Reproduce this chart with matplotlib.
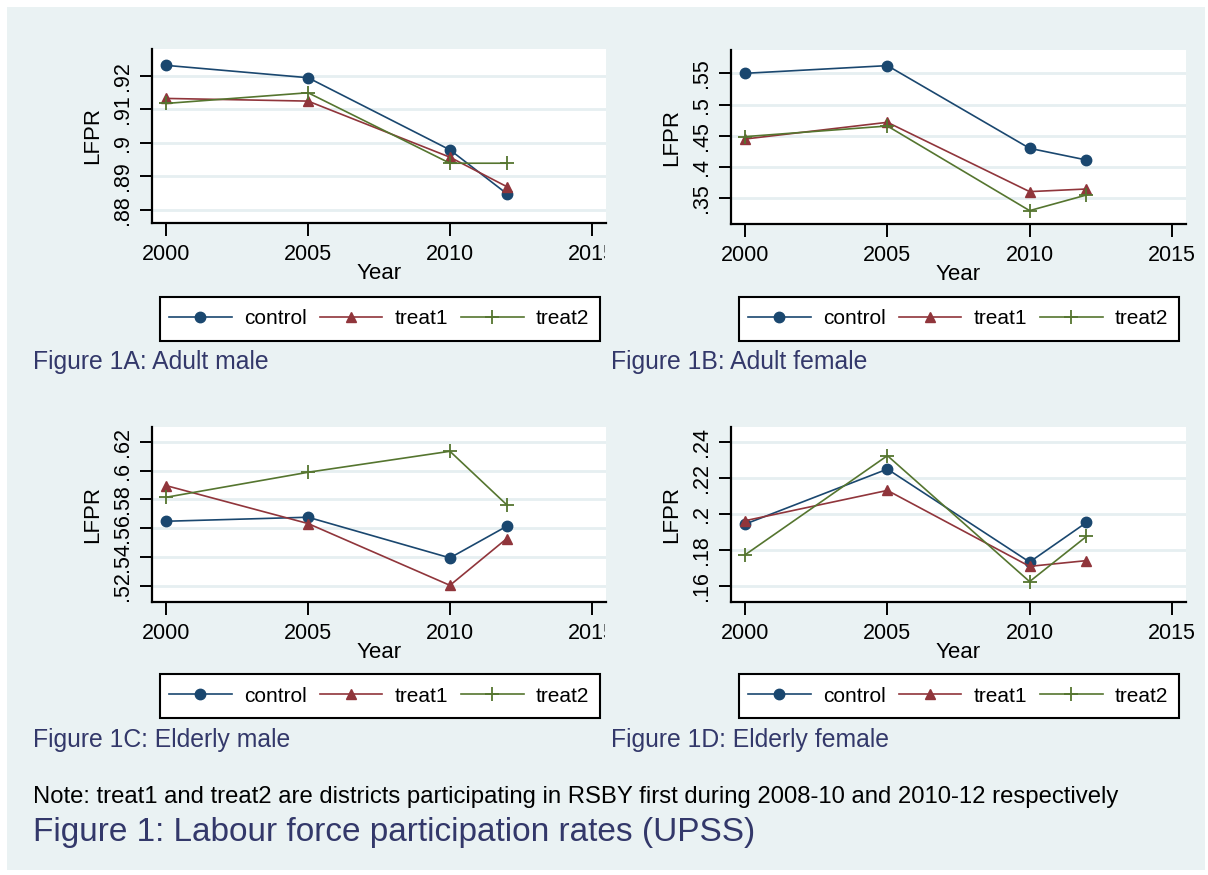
import matplotlib
matplotlib.use("Agg")
import matplotlib.pyplot as plt
from matplotlib.patches import Rectangle
from matplotlib.transforms import Bbox, TransformedBbox

plt.rcParams['font.family'] = ['Liberation Sans', 'DejaVu Sans']

# ---------------- data ----------------
years = [2000, 2005, 2010, 2012]
series_names = ["control", "treat1", "treat2"]

adult_male_control = [0.9232, 0.9195, 0.8979, 0.8848]
adult_male_treat1 = [0.9133, 0.9125, 0.8957, 0.8869]
adult_male_treat2 = [0.9118, 0.9150, 0.8939, 0.8939]

adult_female_control = [0.5500, 0.5623, 0.4300, 0.4113]
adult_female_treat1 = [0.4449, 0.4716, 0.3607, 0.3649]
adult_female_treat2 = [0.4487, 0.4657, 0.3303, 0.3553]

elderly_male_control = [0.5648, 0.5676, 0.5393, 0.5613]
elderly_male_treat1 = [0.5896, 0.5632, 0.5202, 0.5527]
elderly_male_treat2 = [0.5815, 0.5989, 0.6135, 0.5763]

elderly_female_control = [0.1944, 0.2251, 0.1732, 0.1953]
elderly_female_treat1 = [0.1963, 0.2132, 0.1708, 0.1740]
elderly_female_treat2 = [0.1773, 0.2326, 0.1623, 0.1875]

xticks = [2000, 2005, 2010, 2015]
xtick_labels = ["2000", "2005", "2010", "2015"]

yticks_A = [0.88, 0.89, 0.90, 0.91, 0.92]
ylabels_A = [".88", ".89", ".9", ".91", ".92"]
yticks_B = [0.35, 0.40, 0.45, 0.50, 0.55]
ylabels_B = [".35", ".4", ".45", ".5", ".55"]
yticks_C = [0.52, 0.54, 0.56, 0.58, 0.60, 0.62]
ylabels_C = [".52", ".54", ".56", ".58", ".6", ".62"]
yticks_D = [0.16, 0.18, 0.20, 0.22, 0.24]
ylabels_D = [".16", ".18", ".2", ".22", ".24"]

captions = ["Figure 1A: Adult male", "Figure 1B: Adult female",
            "Figure 1C: Elderly male", "Figure 1D: Elderly female"]
note_text = ("Note: treat1 and treat2 are districts participating in RSBY first "
             "during 2008-10 and 2010-12 respectively")
title_text = "Figure 1: Labour force participation rates (UPSS)"

# ---------------- style ----------------
W, H = 1208, 875
colors = ["#1a476f", "#90353b", "#55752f"]
markers = ["o", "^", "+"]
msizes = [7.5, 7.5, 10]
bg = "#EAF2F3"
grid_c = "#E6EFF1"
cap_color = "#33386a"

fig = plt.figure(figsize=(W / 100, H / 100), dpi=100)
fig.patch.set_facecolor("white")
fig.add_artist(Rectangle((7 / W, 5 / H), (1205 - 7) / W, (870 - 7) / H,
                         transform=fig.transFigure, fc=bg, ec="none", zorder=-2))


def px_axes(x0, y0, x1, y1):
    return fig.add_axes([x0 / W, 1 - y1 / H, (x1 - x0) / W, (y1 - y0) / H])


panels = [
    dict(box=(152, 49, 606, 223), ylim=(0.876, 0.9281), yt=yticks_A, yl=ylabels_A,
         data=[adult_male_control, adult_male_treat1, adult_male_treat2],
         leg=(160, 297, 600, 341), cap=(33, 362), clip=True),
    dict(box=(731, 50, 1186, 224), ylim=(0.3089, 0.5873), yt=yticks_B, yl=ylabels_B,
         data=[adult_female_control, adult_female_treat1, adult_female_treat2],
         leg=(739, 297, 1179, 341), cap=(611, 362), clip=False),
    dict(box=(152, 427, 606, 602), ylim=(0.5086, 0.6304), yt=yticks_C, yl=ylabels_C,
         data=[elderly_male_control, elderly_male_treat1, elderly_male_treat2],
         leg=(160, 674, 600, 718), cap=(33, 740), clip=True),
    dict(box=(731, 427, 1186, 602), ylim=(0.1509, 0.2486), yt=yticks_D, yl=ylabels_D,
         data=[elderly_female_control, elderly_female_treat1, elderly_female_treat2],
         leg=(739, 674, 1179, 718), cap=(611, 740), clip=False),
]

clipbox = TransformedBbox(Bbox([[0, 0], [605 / W, 1]]), fig.transFigure)

for i, p in enumerate(panels):
    ax = px_axes(*p["box"])
    ax.set_facecolor("white")
    for k, (vals, name) in enumerate(zip(p["data"], series_names)):
        ax.plot(years, vals, color=colors[k], marker=markers[k], ms=msizes[k],
                mew=1.3 if markers[k] == "+" else 1.0, lw=1.2, label=name,
                clip_on=False, zorder=3)
    ax.set_xlim(1999.5, 2015.5)
    ax.set_ylim(*p["ylim"])
    ax.set_xticks(xticks)
    ax.set_xticklabels(xtick_labels)
    ax.set_yticks(p["yt"])
    ax.set_yticklabels(p["yl"], rotation=90, va="center")
    ax.yaxis.grid(True, color=grid_c, lw=2)
    ax.set_axisbelow(True)
    for s in ["top", "right"]:
        ax.spines[s].set_visible(False)
    for s in ["left", "bottom"]:
        ax.spines[s].set_linewidth(1.6)
        ax.spines[s].set_color("black")
    ax.tick_params(axis="both", length=9, width=1.4, labelsize=15.5, colors="black")
    ax.tick_params(axis="x", pad=6)
    ax.tick_params(axis="y", pad=5)
    ax.set_xlabel("Year", fontsize=16, labelpad=-1)
    ax.set_ylabel("LFPR", fontsize=16, labelpad=6)

    # legend box + legend
    lx0, ly0, lx1, ly1 = p["leg"]
    fig.add_artist(Rectangle((lx0 / W, 1 - ly1 / H), (lx1 - lx0) / W, (ly1 - ly0) / H,
                             transform=fig.transFigure, fc="white", ec="black",
                             lw=1.5, zorder=-1))
    handles, labels = ax.get_legend_handles_labels()
    leg = ax.legend(handles, labels, ncol=3, loc="center left",
                    bbox_to_anchor=((lx0 + 9) / W, 1 - ((ly0 + ly1) / 2) / H),
                    bbox_transform=fig.transFigure, frameon=False, fontsize=15,
                    borderpad=0, borderaxespad=0, handlelength=3.0,
                    handletextpad=0.6, columnspacing=0.62)
    if p["clip"]:
        t = leg.get_texts()[2]
        t.set_clip_on(True)
        t.set_clip_box(clipbox)
        lab = ax.get_xticklabels()[-1]
        lab.set_clip_on(True)
        lab.set_clip_box(clipbox)

    cx, cy = p["cap"]
    fig.text(cx / W, 1 - cy / H, captions[i], fontsize=17.8, color=cap_color,
             va="center", ha="left")

fig.text(33 / W, 1 - 797 / H, note_text, fontsize=17.2, color="black",
         va="center", ha="left")
fig.text(33 / W, 1 - 832 / H, title_text, fontsize=24, color=cap_color,
         va="center", ha="left")

fig.savefig("out.png", dpi=100, facecolor=fig.get_facecolor())
